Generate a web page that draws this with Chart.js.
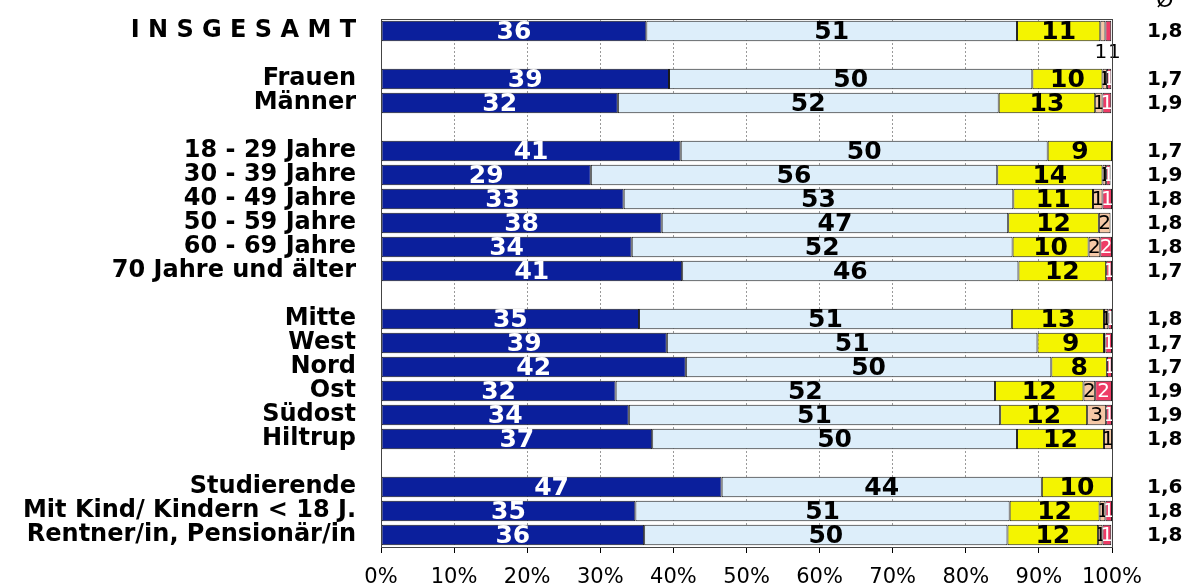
<!DOCTYPE html>
<html>
<head>
<meta charset="utf-8">
<script src="https://cdn.jsdelivr.net/npm/chart.js@4.4.1/dist/chart.umd.min.js"></script>
<style>
  html, body { margin: 0; padding: 0; background: #fff; }
  #wrap { width: 1193px; height: 585px; }
</style>
</head>
<body>
<div id="wrap"><canvas id="chart" width="1193" height="585"></canvas></div>
<script>
// categories, '' = spacer row
const categories = ['I N S G E S A M T', '', 'Frauen', 'Männer', '', '18 - 29 Jahre', '30 - 39 Jahre', '40 - 49 Jahre', '50 - 59 Jahre', '60 - 69 Jahre', '70 Jahre und älter', '', 'Mitte', 'West', 'Nord', 'Ost', 'Südost', 'Hiltrup', '', 'Studierende', 'Mit Kind/ Kindern < 18 J.', 'Rentner/in, Pensionär/in'];

// shares in percent, one array per answer
const note1 = [36.3, null, 39.4, 32.4, null, 41.0, 28.7, 33.2, 38.4, 34.3, 41.2, null, 35.3, 39.1, 41.7, 32.1, 33.9, 37.1, null, 46.6, 34.8, 36.0];
const note2 = [50.7, null, 49.7, 52.1, null, 50.2, 55.6, 53.3, 47.4, 52.1, 46.0, null, 51.0, 50.7, 50.0, 51.9, 50.8, 49.9, null, 43.8, 51.2, 49.7];
const note3 = [11.4, null, 9.6, 13.2, null, 8.8, 14.4, 10.9, 12.4, 10.4, 12.0, null, 12.6, 9.1, 7.6, 12.1, 11.9, 11.9, null, 9.6, 12.3, 12.4];
const note4 = [0.7, null, 0.6, 1.0, null, 0, 0.5, 1.3, 1.6, 1.6, 0, null, 0.6, 0.2, 0, 1.6, 2.6, 1.1, null, 0, 0.8, 0.6];
const note5 = [0.8, null, 0.6, 1.2, null, 0, 0.6, 1.3, 0, 1.6, 0.8, null, 0.5, 0.9, 0.7, 2.3, 0.8, 0, null, 0, 0.9, 1.2];

// average grade (right column)
const averages = ['1,8', '', '1,7', '1,9', '', '1,7', '1,9', '1,8', '1,8', '1,8', '1,7', '', '1,8', '1,7', '1,7', '1,9', '1,9', '1,8', '', '1,6', '1,8', '1,8'];

const xTicks = [0, 10, 20, 30, 40, 50, 60, 70, 80, 90, 100];

const FONT = '"DejaVu Sans", Verdana, sans-serif';

// label style per segment
const labelStyle = [
  { color: '#fff', font: 'bold 25px ' + FONT },
  { color: '#000', font: 'bold 25px ' + FONT },
  { color: '#000', font: 'bold 25px ' + FONT },
  { color: '#000', font: '20px ' + FONT },
  { color: '#fff', font: '20px ' + FONT }
];

const barLabels = {
  id: 'barLabels',
  afterDatasetsDraw(chart) {
    const ctx = chart.ctx;
    chart.data.datasets.forEach((ds, di) => {
      const meta = chart.getDatasetMeta(di);
      meta.data.forEach((bar, i) => {
        const v = ds.data[i];
        if (v == null) return;
        const r = Math.round(v);
        if (r < 1) return;
        const p = bar.getProps(['x', 'y', 'base', 'height'], true);
        const left = Math.min(p.x, p.base), right = Math.max(p.x, p.base);
        ctx.save();
        ctx.textAlign = 'center';
        ctx.textBaseline = 'middle';
        if (i === 0 && di >= 3) {
          // tiny segments of the total row: label below the bar
          ctx.font = '20px ' + FONT;
          ctx.fillStyle = '#000';
          ctx.fillText(String(r), (left + right) / 2 + (di === 4 ? 6 : -2), p.y + 22);
          ctx.restore();
          return;
        }
        ctx.beginPath();
        ctx.rect(left, p.y - p.height / 2, right - left, p.height);
        ctx.clip();
        ctx.font = labelStyle[di].font;
        ctx.fillStyle = labelStyle[di].color;
        ctx.fillText(String(r), (left + right) / 2, p.y + 1);
        ctx.restore();
      });
    });
  },
  afterDraw(chart) {
    const ctx = chart.ctx;
    const a = chart.chartArea;
    const y = chart.scales.y;
    ctx.save();
    // frame
    ctx.strokeStyle = '#444';
    ctx.lineWidth = 1;
    ctx.strokeRect(a.left + 0.5, a.top + 0.5, a.right - a.left, a.bottom - a.top);
    // averages column
    ctx.fillStyle = '#000';
    ctx.textAlign = 'left';
    ctx.textBaseline = 'middle';
    ctx.font = 'bold 20px ' + FONT;
    averages.forEach((t, i) => {
      if (t) ctx.fillText(t, 1147, y.getPixelForValue(i) + 1);
    });
    ctx.font = '22px ' + FONT;
    ctx.textAlign = 'center';
    ctx.fillText('Ø', 1165, 1);
    ctx.restore();
  }
};

const mk = (label, data, color) => ({
  label, data,
  backgroundColor: color,
  borderColor: '#1a1a1a',
  borderWidth: 1,
  borderSkipped: false,
  barPercentage: 0.86,
  categoryPercentage: 1
});

new Chart(document.getElementById('chart'), {
  type: 'bar',
  data: {
    labels: categories,
    datasets: [
      mk('1', note1, '#0b1f9c'),
      mk('2', note2, '#ddeefa'),
      mk('3', note3, '#f4f400'),
      mk('4', note4, '#f6c8a6'),
      mk('5', note5, '#ee3b66')
    ]
  },
  options: {
    indexAxis: 'y',
    responsive: false,
    animation: false,
    layout: { padding: { top: 19, right: 81, left: 0, bottom: 0 } },
    plugins: {
      legend: { display: false },
      tooltip: { enabled: false }
    },
    scales: {
      x: {
        stacked: true,
        min: 0,
        max: 100,
        afterBuildTicks: (s) => { s.ticks = xTicks.map(v => ({ value: v })); },
        afterFit: (s) => { s.height = 38; },
        ticks: {
          callback: (v) => v + '%',
          color: '#000',
          font: { family: FONT, size: 21 },
          padding: 12,
          maxRotation: 0
        },
        grid: {
          color: '#999',
          tickColor: '#000',
          tickLength: 6,
          tickBorderDash: []
        },
        border: { display: true, color: '#000', dash: [2, 2] }
      },
      y: {
        stacked: true,
        afterFit: (s) => { s.width = 381; s.paddingTop = 0; s.paddingBottom = 0; },
        ticks: {
          autoSkip: false,
          color: '#000',
          font: { family: FONT, size: 24, weight: 'bold' },
          padding: 25
        },
        grid: { display: false, drawTicks: false },
        border: { display: true, color: '#333' }
      }
    }
  },
  plugins: [barLabels]
});
</script>
</body>
</html>
